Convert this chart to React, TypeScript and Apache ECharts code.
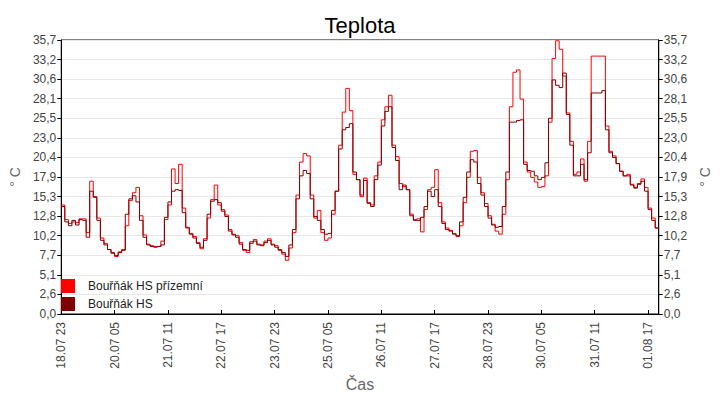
import { useEffect, useRef } from "react";
import * as echarts from "echarts";

// hours since 18.07 23:00, one sample every 2 h
const SAMPLE_STEP_H = 2;

const xTickLabels = [
  "18.07 23", "20.07 05", "21.07 11", "22.07 17", "23.07 23", "25.07 05",
  "26.07 11", "27.07 17", "28.07 23", "30.07 05", "31.07 11", "01.08 17",
];

const yTickLabels = [
  "0,0", "2,6", "5,1", "7,7", "10,2", "12,8", "15,3", "17,9",
  "20,4", "23,0", "25,5", "28,1", "30,6", "33,2", "35,7",
];

// Bouřňák HS přízemní (ground)
const groundTemps = [
  14.2, 12.3, 11.8, 12.0, 11.9, 12.4, 12.4, 10.6, 17.3, 15.3,
  12.5, 9.9, 9.2, 8.4, 7.9, 7.5, 8.1, 8.4, 11.5, 14.8,
  15.8, 16.5, 12.8, 10.3, 9.1, 8.9, 8.8, 8.8, 9.5, 12.3,
  14.2, 18.9, 17.0, 19.5, 13.8, 11.2, 10.5, 10.1, 9.3, 8.5,
  9.8, 12.5, 14.9, 16.8, 14.2, 13.6, 12.9, 11.0, 10.4, 10.2,
  9.3, 8.3, 8.0, 9.2, 9.7, 9.1, 9.0, 9.5, 9.8, 9.1,
  8.9, 8.4, 7.8, 7.0, 8.6, 10.6, 15.5, 19.8, 20.9, 20.6,
  15.5, 12.5, 13.5, 10.6, 9.6, 9.9, 13.0, 16.0, 22.0, 26.3,
  29.4, 26.5, 18.2, 17.5, 15.3, 17.7, 14.4, 14.2, 18.0, 19.8,
  25.3, 27.0, 28.5, 22.0, 20.5, 17.0, 16.6, 16.2, 13.0, 12.3,
  12.4, 10.7, 13.6, 16.2, 16.5, 18.8, 14.5, 12.0, 11.2, 10.9,
  10.5, 10.1, 11.5, 14.5, 17.8, 21.2, 21.3, 17.8, 15.8, 14.4,
  12.8, 11.7, 10.8, 10.4, 13.0, 17.5, 27.0, 31.5, 31.8, 28.0,
  19.8, 18.5, 17.8, 17.2, 16.5, 16.6, 18.0, 25.0, 33.3, 35.6,
  34.5, 31.0, 26.2, 22.5, 18.2, 18.5, 20.2, 17.3, 22.5, 33.6,
  33.6, 33.6, 33.6, 24.5, 21.2, 20.6, 19.6, 18.6, 18.0, 18.2,
  16.9, 16.5, 17.0, 17.6, 16.5, 13.8, 12.5, 11.2, 11.2,
];

// Bouřňák HS
const stationTemps = [
  14.0, 12.0, 11.5, 12.2, 11.6, 12.3, 12.2, 10.0, 16.0, 15.2,
  12.2, 9.6, 9.0, 8.4, 8.0, 7.6, 8.0, 8.3, 13.0, 15.0,
  15.4, 14.6, 12.2, 10.0, 9.0, 8.8, 8.7, 8.8, 9.0, 12.6,
  14.6, 16.0, 16.2, 16.1, 13.2, 11.3, 10.4, 9.9, 9.2, 8.7,
  9.6, 13.0, 14.7, 14.9, 14.5, 13.4, 12.7, 10.8, 10.3, 10.0,
  9.1, 8.4, 8.3, 9.4, 9.5, 9.0, 8.9, 9.3, 9.6, 9.0,
  8.7, 8.3, 8.0, 7.5, 9.0, 11.0, 15.0, 18.0, 18.7, 18.3,
  15.0, 12.7, 12.2, 11.0, 10.4, 10.5, 13.5, 16.0, 21.5, 24.0,
  24.3, 24.8, 18.5, 17.5, 15.5, 17.4, 14.5, 14.0, 17.5, 19.4,
  24.5, 26.4, 27.0, 21.7, 20.0, 16.2, 16.8, 16.2, 12.8, 12.2,
  12.2, 12.6, 14.0, 16.0, 15.3, 16.2, 14.0, 11.8, 11.0, 10.8,
  10.4, 10.2, 12.0, 15.2, 18.5, 20.1, 19.8, 17.0, 15.5, 14.0,
  12.5, 11.6, 11.3, 11.4, 14.0, 18.5, 25.0, 25.0, 25.2, 25.3,
  19.5, 18.7, 18.6, 18.0, 17.5, 17.8, 19.7, 25.5, 30.5, 29.8,
  29.5, 31.4, 26.0, 22.0, 18.0, 18.0, 19.5, 17.5, 21.0, 28.8,
  28.8, 28.8, 29.1, 24.0, 21.0, 20.4, 19.6, 18.6, 18.0, 18.0,
  16.8, 16.4, 16.9, 17.3, 16.0, 13.6, 12.2, 11.2, 11.2,
];

const FONT = "'Liberation Sans', Arial, sans-serif";
const Y_STEP = 2.55;
const X_STEP = 30;

const yAxisBase = (position: "left" | "right") => ({
  type: "value" as const,
  position,
  min: 0,
  max: 35.7,
  interval: Y_STEP,
  name: "° C",
  nameLocation: "middle" as const,
  nameRotate: 90,
  nameGap: position === "left" ? 34 : 32,
  nameTextStyle: { fontFamily: FONT, fontSize: 14, color: "#666" },
  axisLine: { show: true, lineStyle: { color: "#000", width: 1 } },
  axisTick: { show: true, inside: false, length: 4, lineStyle: { color: "#000" } },
  axisLabel: {
    fontFamily: FONT,
    fontSize: 12,
    color: "#444",
    margin: 5,
    formatter: (v: number) => yTickLabels[Math.round(v / Y_STEP)] ?? "",
  },
  splitLine: { show: position === "left", lineStyle: { color: "#e8e8e8", width: 1 } },
});

export default function App() {
  const ref = useRef<HTMLDivElement>(null);

  useEffect(() => {
    document.body.style.margin = "0";
    if (!ref.current) return;
    const chart = echarts.init(ref.current, undefined, { renderer: "svg" });
    const toPairs = (vals: number[]) => vals.map((v, i) => [i * SAMPLE_STEP_H, v]);

    chart.setOption({
      animation: false,
      backgroundColor: "#fff",
      title: {
        text: "Teplota",
        left: "center",
        top: 9,
        textStyle: { fontFamily: FONT, fontSize: 22, fontWeight: "normal", color: "#000" },
      },
      legend: {
        orient: "vertical",
        left: 61,
        top: 279,
        padding: 0,
        itemWidth: 14,
        itemHeight: 14,
        itemGap: 4,
        icon: "rect",
        textStyle: { fontFamily: FONT, fontSize: 12, color: "#222", padding: [0, 0, 0, 8] },
        data: ["Bouřňák HS přízemní", "Bouřňák HS"],
      },
      grid: {
        left: 54,
        right: 55,
        top: 40,
        bottom: 86,
        show: true,
        borderColor: "#000",
        borderWidth: 1,
        backgroundColor: "transparent",
      },
      xAxis: {
        type: "value",
        min: 0,
        max: 336,
        interval: X_STEP,
        name: "Čas",
        nameLocation: "middle",
        nameGap: 61,
        nameTextStyle: { fontFamily: FONT, fontSize: 16, color: "#666" },
        axisLine: { show: true, lineStyle: { color: "#000", width: 1 } },
        axisTick: { show: true, inside: true, length: 4, lineStyle: { color: "#000" } },
        axisLabel: {
          rotate: 90,
          margin: 8,
          fontFamily: FONT,
          fontSize: 12,
          color: "#444",
          showMaxLabel: false,
          formatter: (v: number) => {
            const i = v / X_STEP;
            return Number.isInteger(i) ? xTickLabels[i] ?? "" : "";
          },
        },
        splitLine: { show: false },
      },
      yAxis: [yAxisBase("left"), yAxisBase("right")],
      series: [
        {
          name: "Bouřňák HS přízemní",
          type: "line",
          step: "end",
          showSymbol: false,
          color: "#ff0000",
          lineStyle: { width: 1, color: "#ff0000" },
          data: toPairs(groundTemps),
        },
        {
          name: "Bouřňák HS",
          type: "line",
          step: "end",
          showSymbol: false,
          color: "#800000",
          lineStyle: { width: 1, color: "#800000" },
          data: toPairs(stationTemps),
        },
      ],
    });

    return () => chart.dispose();
  }, []);

  return <div ref={ref} style={{ width: 720, height: 400 }} />;
}
